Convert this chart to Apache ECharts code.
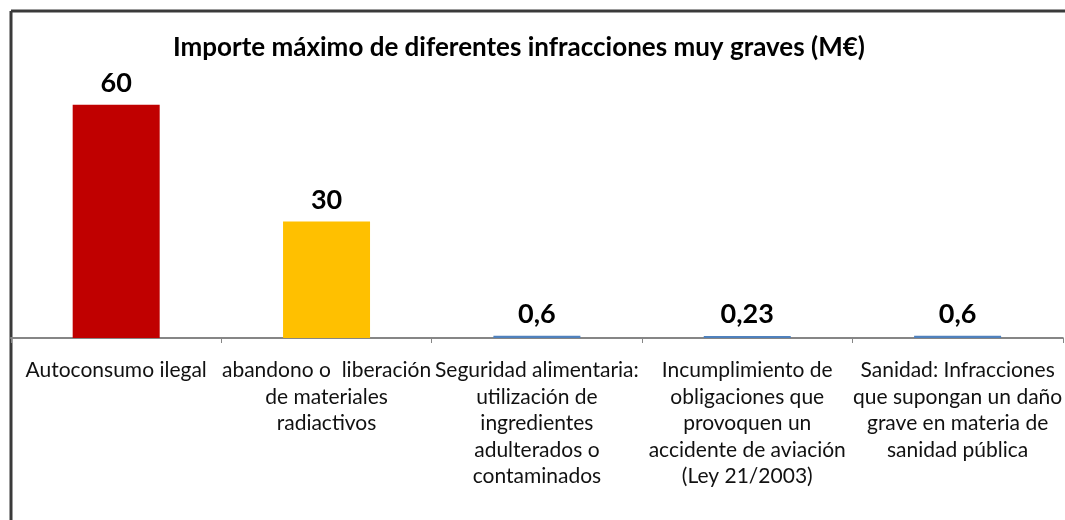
<!DOCTYPE html>
<html>
<head>
<meta charset="utf-8">
<script src="https://cdn.jsdelivr.net/npm/echarts@6/dist/echarts.min.js"></script>
<style>
html,body{margin:0;padding:0;background:#fff;overflow:hidden;}
#c{width:1065px;height:520px;}
</style>
</head>
<body>
<div id="c"></div>
<script>
const titleText = 'Importe máximo de diferentes infracciones muy graves (M€)';
const categories = [
  'Autoconsumo ilegal',
  'abandono o  liberación\nde materiales\nradiactivos',
  'Seguridad alimentaria:\nutilización de\ningredientes\nadulterados o\ncontaminados',
  'Incumplimiento de\nobligaciones que\nprovoquen un\naccidente de aviación\n(Ley 21/2003)',
  'Sanidad: Infracciones\nque supongan un daño\ngrave en materia de\nsanidad pública'
];
const values = [60, 30, 0.6, 0.23, 0.6];
const colors = ['#C00000', '#FFC000', '#4F81BD', '#4F81BD', '#4F81BD'];

const FONT = 'Lato';
const TITLE_SIZE = 26;
// centre the title at x = 519 as in the reference
const ctx = document.createElement('canvas').getContext('2d');
ctx.font = 'bold ' + TITLE_SIZE + 'px ' + FONT;
const titleW = ctx.measureText(titleText).width;

const chart = echarts.init(document.getElementById('c'));
chart.setOption({
  backgroundColor: '#ffffff',
  animation: false,
  title: {
    text: titleText,
    left: Math.round(519 - titleW / 2) - 5,
    top: 30,
    textStyle: {fontFamily: FONT, fontWeight: 'bold', fontSize: TITLE_SIZE, color: '#000'}
  },
  graphic: [
    {
      type: 'line',
      shape: {x1: 11, y1: 11, x2: 1065, y2: 11},
      style: {stroke: '#3a3a3a', lineWidth: 3},
      silent: true
    },
    {
      type: 'line',
      shape: {x1: 11, y1: 11, x2: 11, y2: 520},
      style: {stroke: '#3a3a3a', lineWidth: 3},
      silent: true
    }
  ],
  grid: {left: 11, top: 66, width: 1054, height: 272},
  xAxis: {
    type: 'category',
    data: categories,
    axisLine: {lineStyle: {color: '#868686', width: 2}},
    axisTick: {show: true, length: 5, lineStyle: {color: '#868686', width: 1}},
    splitLine: {show: false},
    axisLabel: {
      interval: 0,
      margin: 19,
      fontFamily: FONT,
      fontSize: 21,
      lineHeight: 26.5,
      color: '#111'
    }
  },
  yAxis: {
    type: 'value',
    min: 0,
    max: 70,
    show: false
  },
  series: [{
    type: 'bar',
    barWidth: 87,
    barMinHeight: 2,
    data: values.map((v, i) => ({value: v, itemStyle: {color: colors[i]}})),
    label: {
      show: true,
      position: 'top',
      distance: 8,
      fontFamily: FONT,
      fontWeight: 'bold',
      fontSize: 27,
      color: '#000',
      formatter: p => String(p.value).replace('.', ',')
    }
  }]
});
</script>
</body>
</html>
